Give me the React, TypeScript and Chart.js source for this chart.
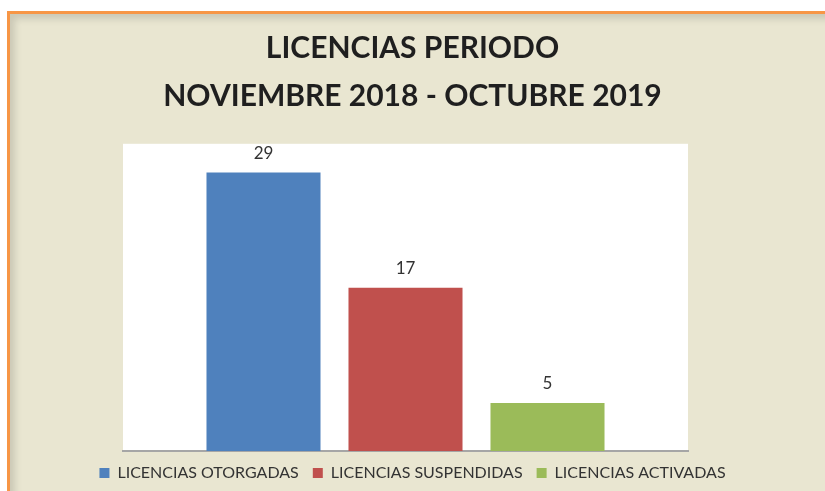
import React, { useEffect, useRef } from "react";
import { Chart, registerables } from "chart.js";

Chart.register(...registerables);

const titleLines = ["LICENCIAS PERIODO", "NOVIEMBRE 2018 - OCTUBRE 2019"];
const categories = [""];
const seriesNames = ["LICENCIAS OTORGADAS", "LICENCIAS SUSPENDIDAS", "LICENCIAS ACTIVADAS"];
const seriesValues = [29, 17, 5];
const seriesColors = ["#4F81BD", "#C0504D", "#9BBB59"];

const FONT = "Lato, 'Open Sans', sans-serif";

const plotBg = {
  id: "plotBg",
  beforeDraw(chart: any) {
    const { ctx, chartArea } = chart;
    ctx.save();
    ctx.fillStyle = "#FFFFFF";
    ctx.fillRect(chartArea.left, chartArea.top, chartArea.right - chartArea.left, chartArea.bottom - chartArea.top);
    ctx.restore();
  },
};

const valueLabels = {
  id: "valueLabels",
  afterDatasetsDraw(chart: any) {
    const { ctx } = chart;
    ctx.save();
    ctx.font = `17px ${FONT}`;
    ctx.fillStyle = "#333333";
    ctx.textAlign = "center";
    ctx.textBaseline = "bottom";
    chart.data.datasets.forEach((ds: any, i: number) => {
      const meta = chart.getDatasetMeta(i);
      meta.data.forEach((bar: any, j: number) => {
        ctx.fillText(String(ds.data[j]), bar.x, bar.y - 11);
      });
    });
    ctx.restore();
  },
};

function ChartView() {
  const ref = useRef<HTMLCanvasElement | null>(null);
  useEffect(() => {
    if (!ref.current) return;
    const chart = new Chart(ref.current, {
      type: "bar",
      data: {
        labels: categories,
        datasets: seriesNames.map((name, i) => ({
          label: name,
          data: [seriesValues[i]],
          backgroundColor: seriesColors[i],
          borderWidth: 0,
          categoryPercentage: 0.754,
          barPercentage: 0.803,
        })),
      },
      options: {
        animation: false,
        responsive: false,
        maintainAspectRatio: false,
        layout: { padding: { top: 0, bottom: 0, left: 0, right: 0 } },
        plugins: {
          title: {
            display: true,
            text: titleLines,
            color: "#1F1F1F",
            font: { family: FONT, size: 30, weight: "bold", lineHeight: 1.58 },
            padding: { top: 11, bottom: 24 },
          },
          legend: {
            position: "bottom",
            labels: {
              color: "#333333",
              font: { family: FONT, size: 16 },
              boxWidth: 10,
              boxHeight: 10,
              padding: 14,
            },
          },
          tooltip: { enabled: false },
        },
        scales: {
          x: {
            ticks: { display: false },
            grid: { display: false, drawTicks: false },
            border: { display: true, color: "#A6A6A6", width: 2 },
          },
          y: {
            position: "left",
            min: 0,
            max: 32,
            ticks: { display: false },
            grid: { display: false, drawTicks: false },
            border: { display: false },
            afterFit(axis: any) {
              axis.width = 113;
            },
          },
          y2: {
            position: "right",
            min: 0,
            max: 32,
            ticks: { display: false },
            grid: { display: false, drawTicks: false },
            border: { display: false },
            afterFit(axis: any) {
              axis.width = 127;
            },
          },
        },
      },
      plugins: [plotBg, valueLabels],
    });
    return () => chart.destroy();
  }, []);
  return <canvas ref={ref} width={805} height={477} style={{ display: "block" }} />;
}

export default function App() {
  return (
    <div style={{ position: "fixed", left: 0, top: 0, width: 825, height: 491, background: "#FFFFFF", overflow: "hidden" }}>
      <div
        style={{
          position: "absolute",
          left: 7,
          top: 11,
          width: 830,
          height: 500,
          background: "#E9E6D1",
          borderTop: "3px solid #F79646",
          borderLeft: "3px solid #F79646",
          boxShadow: "inset 5px 5px 7px rgba(0,0,0,0.13)",
        }}
      />
      <div style={{ position: "absolute", left: 10, top: 14 }}>
        <ChartView />
      </div>
    </div>
  );
}
